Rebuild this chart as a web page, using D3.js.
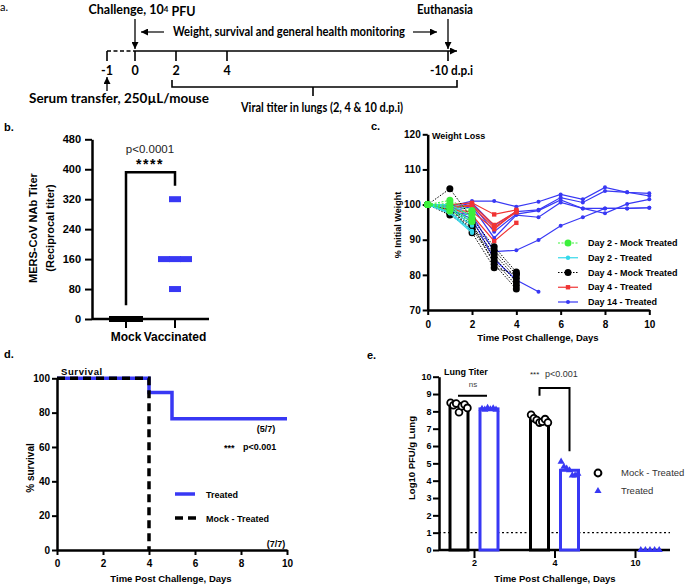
<!DOCTYPE html>
<html><head><meta charset="utf-8">
<script src="https://cdn.jsdelivr.net/npm/d3@7"></script>
<style>
body{margin:0;background:#fff}
svg{display:block}
text{font-family:"Liberation Sans",Arial,sans-serif;fill:#000}
.ta text{font-family:Lato,"Liberation Sans",sans-serif;font-weight:bold}
</style>
</head><body>
<svg id="fig" width="685" height="585"></svg>
<script>
// ================= DATA =================
// a. timeline
const timelineDays = [-1, 0, 2, 4, 10];
const timelineLabels = ["-1", "0", "2", "4", "-10 d.p.i"];

// b. neutralising antibody titers
const nabGroups = ["Mock", "Vaccinated"];
const nabMock = [0, 0, 0];
const nabVaccinated = [320, 160, 160, 160, 80];
const nabTicks = [0, 80, 160, 240, 320, 400, 480];

// c. weight loss (% initial weight), one array per mouse, index = day
const weightGroups = ["Day 2 - Mock Treated", "Day 2 - Treated", "Day 4 - Mock Treated", "Day 4 - Treated", "Day 14 - Treated"];
const day2Mock = [
  [100, 101.2, 98.3], [100, 100.3, 97.8], [100, 99.5, 97.0], [100, 98.8, 96.0], [100, 98.2, 95.2]
];
const day2Treated = [
  [100, 100.0, 96.5], [100, 99.0, 94.0], [100, 98.0, 92.5], [100, 97.5, 92.0], [100, 99.5, 95.0]
];
const day4Mock = [
  [100, 104.5, 96.0, 88.0, 80.8], [100, 99.0, 95.0, 87.0, 80.0], [100, 98.0, 94.0, 86.0, 79.0],
  [100, 97.5, 93.5, 85.0, 78.0], [100, 97.0, 93.0, 84.0, 77.0], [100, 98.5, 94.5, 83.0, 76.0],
  [100, 99.5, 92.0, 82.0, 80.3]
];
const day4Treated = [
  [100, 100.0, 100.5, 97.2, 98.5], [100, 99.0, 100.0, 94.2, 98.0], [100, 99.5, 99.5, 93.5, 97.8],
  [100, 98.5, 98.0, 93.0, 98.2], [100, 99.0, 97.0, 89.6, 94.8]
];
const day14Treated = [
  [100, 99.5, 101.0, 101.0, 99.4, 100.8, 102.9, 101.5, 104.9, 103.5, 103.2],
  [100, 99.0, 100.5, 94.0, 98.0, 98.5, 102.0, 100.6, 103.9, 103.5, 102.5],
  [100, 98.5, 100.0, 92.3, 97.3, 98.3, 101.3, 98.9, 98.9, 98.9, 99.1],
  [100, 98.0, 99.5, 90.5, 97.0, 96.4, 100.6, 98.9, 97.5, 100.2, 101.5],
  [100, 98.0, 97.0, 86.6, 87.0, 89.9, 94.0, 96.4, 98.9, 98.9, 99.1],
  [100, 98.5, 96.0, 84.5, 78.5, 75.2]
];
const weightXTicks = [0, 2, 4, 6, 8, 10];
const weightYTicks = [70, 80, 90, 100, 110, 120];

// d. survival
const survTreatedDays = [0, 4, 5, 10];
const survTreated = [100, 91.7, 76.4, 76.4];
const survMockDays = [0, 4];
const survMock = [100, 0];
const survXTicks = [0, 2, 4, 6, 8, 10];
const survYTicks = [0, 20, 40, 60, 80, 100];

// e. lung titers (log10 PFU/g)
const lungDays = ["2", "4", "10"];
const lungGroups = ["Mock - Treated", "Treated"];
const lungMockDay2 = [8.5, 8.35, 8.45, 7.95, 8.3, 8.4, 8.2];
const lungMockDay4 = [7.8, 7.6, 7.5, 7.35, 7.4, 7.55, 7.35];
const lungMockDay10 = [];
const lungTreatedDay2 = [8.15, 8.1, 8.2, 8.12, 8.18, 8.1];
const lungTreatedDay4 = [5.1, 4.8, 4.7, 4.6, 4.3, 4.3, 4.4];
const lungTreatedDay10 = [0, 0, 0, 0, 0];
const lungYTicks = [0, 1, 2, 3, 4, 5, 6, 7, 8, 9, 10];
const lungLimit = 1;

// ================= DRAWING =================
const BLUE = "#3838f4", RED = "#f03434", GREEN = "#3cf03c", CYAN = "#34d8ea";
const svg = d3.select("#fig");
const defs = svg.append("defs");
defs.append("marker").attr("id", "ah").attr("viewBox", "0 0 10 10")
  .attr("refX", 10).attr("refY", 5).attr("markerWidth", 7).attr("markerHeight", 7)
  .attr("markerUnits", "userSpaceOnUse").attr("orient", "auto")
  .append("path").attr("d", "M0,0L10,5L0,10z").attr("fill", "#000");

function T(g, x, y, s, o = {}) {
  const t = g.append("text").attr("x", x).attr("y", y).attr("dy", "0.35em")
    .attr("text-anchor", o.anchor || "start")
    .style("font-size", (o.size || 10) + "px")
    .style("font-weight", o.bold === false ? "normal" : "bold")
    .text(s);
  if (o.fill) t.style("fill", o.fill);
  if (o.ls) t.style("letter-spacing", o.ls + "px");
  if (o.rot) t.attr("transform", `rotate(-90,${x},${y})`);
  return t;
}
// stretch/squeeze a text horizontally to span a width, keeping its height
function fit(t, w) {
  return t.attr("textLength", w).attr("lengthAdjust", "spacingAndGlyphs");
}
function styleAxis(g, fs, domainW = 2.5) {
  g.select(".domain").attr("stroke-width", domainW).attr("stroke", "#000");
  g.selectAll(".tick line").attr("stroke-width", 2).attr("stroke", "#000");
  g.selectAll(".tick text").style("font-size", fs + "px").style("font-weight", "bold").attr("fill", "#000");
}
function swarm(values, spacing) {
  const counts = d3.rollup(values, v => v.length, d => d);
  const seen = new Map();
  return values.map(v => {
    const n = counts.get(v), k = seen.get(v) || 0; seen.set(v, k + 1);
    return { v, dx: (k - (n - 1) / 2) * spacing };
  });
}

// ---------- a. timeline ----------
{
  const g = svg.append("g").attr("class", "ta");
  const ta = d3.scaleLinear().domain(timelineDays).range([107, 135, 176, 227, 448]);
  const yL = 51;
  const FS = 12.5;
  T(g, 0, 7, "a.", { size: 11 }).style("font-weight", "normal");
  const ch = T(g, 142, 10, "Challenge, 10", { size: FS, anchor: "middle" });
  ch.append("tspan").attr("dy", "-0.35em").style("font-size", "8px").text("4");
  ch.append("tspan").attr("dy", "0.35em").text(" PFU");
  fit(T(g, 445, 10, "Euthanasia", { size: FS, anchor: "middle" }), 56);
  [0, 10].forEach(d => g.append("line").attr("x1", ta(d)).attr("x2", ta(d)).attr("y1", 19).attr("y2", yL - 2)
    .attr("stroke", "#000").attr("stroke-width", 1.3).attr("marker-end", "url(#ah)"));
  fit(T(g, 289, 32, "Weight, survival and general health monitoring", { size: FS, anchor: "middle" }), 232);
  g.append("line").attr("x1", 164).attr("x2", 141).attr("y1", 32).attr("y2", 32).attr("stroke", "#000").attr("stroke-width", 1.2).attr("marker-end", "url(#ah)");
  g.append("line").attr("x1", 413).attr("x2", 437).attr("y1", 32).attr("y2", 32).attr("stroke", "#000").attr("stroke-width", 1.2).attr("marker-end", "url(#ah)");
  g.append("line").attr("x1", ta(-1)).attr("x2", ta(0)).attr("y1", yL).attr("y2", yL).attr("stroke", "#000").attr("stroke-width", 1.6).attr("stroke-dasharray", "4,2.5");
  g.append("line").attr("x1", ta(0)).attr("x2", ta(10) + 9).attr("y1", yL).attr("y2", yL).attr("stroke", "#000").attr("stroke-width", 1.6).attr("marker-end", "url(#ah)");
  timelineDays.forEach((d, i) => {
    g.append("line").attr("x1", ta(d)).attr("x2", ta(d)).attr("y1", yL).attr("y2", yL + 10).attr("stroke", "#000").attr("stroke-width", 1.6);
    const last = i === timelineDays.length - 1;
    const t = T(g, last ? ta(d) - 18 : ta(d), 71, timelineLabels[i], { size: FS, anchor: last ? "start" : "middle" });
    if (last) fit(t, 43);
  });
  g.append("line").attr("x1", ta(-1)).attr("x2", ta(-1)).attr("y1", 91).attr("y2", 77).attr("stroke", "#000").attr("stroke-width", 1.3).attr("marker-end", "url(#ah)");
  fit(T(g, 119, 99, "Serum transfer, 250\u00b5L/mouse", { size: FS, anchor: "middle" }), 180);
  g.append("path").attr("d", `M172,80V87H457V80M313,87V96`).attr("fill", "none").attr("stroke", "#000").attr("stroke-width", 1.6);
  fit(T(g, 322, 108, "Viral titer in lungs (2, 4 & 10 d.p.i)", { size: FS, anchor: "middle" }), 162);
}

// ---------- b. NAb titers ----------
{
  const g = svg.append("g");
  const yb = d3.scaleLinear().domain([0, 480]).range([319, 139.3]);
  const xb = d3.scalePoint().domain(nabGroups).range([126, 175]);
  T(g, 4, 127, "b.", { size: 11 });
  const ya = g.append("g").attr("transform", "translate(92,0)")
    .call(d3.axisLeft(yb).tickValues(nabTicks).tickSize(7).tickSizeOuter(0).tickPadding(4));
  styleAxis(ya, 11);
  g.append("line").attr("x1", 92).attr("x2", 209).attr("y1", 319).attr("y2", 319).attr("stroke", "#000").attr("stroke-width", 2.5);
  nabGroups.forEach(c => {
    g.append("line").attr("x1", xb(c)).attr("x2", xb(c)).attr("y1", 319).attr("y2", 328).attr("stroke", "#000").attr("stroke-width", 2);
    T(g, xb(c), 337, c, { size: 12, anchor: "middle" });
  });
  T(g, 33, 228, "MERS-CoV NAb Titer", { size: 11, anchor: "middle", rot: true });
  T(g, 50, 228, "(Reciprocal titer)", { size: 11, anchor: "middle", rot: true });
  [[nabMock, "Mock", "#000"], [nabVaccinated, "Vaccinated", BLUE]].forEach(([vals, c, col]) => {
    g.selectAll(null).data(swarm(vals, 11)).join("rect")
      .attr("x", d => xb(c) + d.dx - 6).attr("y", d => yb(d.v) - 3)
      .attr("width", 12).attr("height", 6).attr("fill", col);
  });
  g.append("path").attr("d", `M${xb("Mock")},${yb(37)}V${yb(392)}H${xb("Vaccinated")}V${yb(356)}`)
    .attr("fill", "none").attr("stroke", "#000").attr("stroke-width", 2.5);
  T(g, 150, 149, "p<0.0001", { size: 11.5, anchor: "middle", bold: false, fill: "#222" });
  T(g, 150, 164, "****", { size: 14, anchor: "middle", ls: 1.5 });
}

// ---------- c. weight loss ----------
{
  const g = svg.append("g");
  const xc = d3.scaleLinear().domain([0, 10]).range([427.7, 649.3]);
  const yc = d3.scaleLinear().domain([70, 120]).range([310, 134.3]);
  T(g, 371, 126, "c.", { size: 11 });
  const xa = g.append("g").attr("transform", "translate(0,310)")
    .call(d3.axisBottom(xc).tickValues(weightXTicks).tickSize(5).tickSizeOuter(0).tickPadding(6));
  styleAxis(xa, 10);
  const ya = g.append("g").attr("transform", "translate(427.7,0)")
    .call(d3.axisLeft(yc).tickValues(weightYTicks).tickSize(5).tickSizeOuter(0).tickPadding(2));
  styleAxis(ya, 10);
  T(g, 538, 338, "Time Post Challenge, Days", { size: 9.5, anchor: "middle" });
  T(g, 398, 225, "% Initial Weight", { size: 9, anchor: "middle", rot: true });
  T(g, 432, 136, "Weight Loss", { size: 9 });
  const line = d3.line().x((v, i) => xc(i)).y(v => yc(v));
  const styles = [
    { data: day14Treated, col: BLUE, dash: null, r: 2, w: 1.2, shape: "circle" },
    { data: day4Treated, col: RED, dash: null, r: 2.2, w: 1.2, shape: "square" },
    { data: day4Mock, col: "#000", dash: "1.5,1.5", r: 3.5, w: 1, shape: "circle" },
    { data: day2Treated, col: CYAN, dash: null, r: 2.2, w: 1.2, shape: "circle" },
    { data: day2Mock, col: GREEN, dash: "2,1.5", r: 3.5, w: 1, shape: "circle" }
  ];
  const legendOrder = [4, 3, 2, 1, 0];
  styles.forEach(s => {
    const sg = g.append("g");
    sg.selectAll("path").data(s.data).join("path").attr("d", line).attr("fill", "none")
      .attr("stroke", s.col).attr("stroke-width", s.w).attr("stroke-dasharray", s.dash);
    const pts = s.data.flatMap(m => m.map((v, i) => ({ i, v })));
    if (s.shape === "circle")
      sg.selectAll("circle").data(pts).join("circle").attr("cx", d => xc(d.i)).attr("cy", d => yc(d.v)).attr("r", s.r).attr("fill", s.col);
    else
      sg.selectAll("rect").data(pts).join("rect").attr("x", d => xc(d.i) - s.r).attr("y", d => yc(d.v) - s.r).attr("width", 2 * s.r).attr("height", 2 * s.r).attr("fill", s.col);
  });
  weightGroups.forEach((lab, k) => {
    const s = styles[legendOrder[k]];
    const y = 243 + k * 14.75;
    g.append("line").attr("x1", 558).attr("x2", 578).attr("y1", y).attr("y2", y).attr("stroke", s.col).attr("stroke-width", s.w).attr("stroke-dasharray", s.dash);
    if (s.shape === "circle") g.append("circle").attr("cx", 568).attr("cy", y).attr("r", s.r).attr("fill", s.col);
    else g.append("rect").attr("x", 568 - s.r).attr("y", y - s.r).attr("width", 2 * s.r).attr("height", 2 * s.r).attr("fill", s.col);
    T(g, 588, y, lab, { size: 9 });
  });
}

// ---------- d. survival ----------
{
  const g = svg.append("g");
  const xd = d3.scaleLinear().domain([0, 10]).range([57, 287]);
  const yd = d3.scaleLinear().domain([0, 100]).range([550, 378.3]);
  T(g, 4, 354, "d.", { size: 11 });
  const xa = g.append("g").attr("transform", "translate(0,550)")
    .call(d3.axisBottom(xd).tickValues(survXTicks).tickSize(5).tickSizeOuter(0).tickPadding(5));
  styleAxis(xa, 10);
  const ya = g.append("g").attr("transform", "translate(57,0)")
    .call(d3.axisLeft(yd).tickValues(survYTicks).tickSize(5).tickSizeOuter(0).tickPadding(2));
  styleAxis(ya, 10);
  T(g, 171, 579, "Time Post Challenge, Days", { size: 9.5, anchor: "middle" });
  T(g, 30, 468, "% survival", { size: 10, anchor: "middle", rot: true });
  T(g, 61, 372, "Survival", { size: 9.5, ls: 0.6 });
  const step = d3.line().curve(d3.curveStepAfter);
  g.append("path").attr("d", step(survTreatedDays.map((t, i) => [xd(t), yd(survTreated[i])])))
    .attr("fill", "none").attr("stroke", BLUE).attr("stroke-width", 3.5);
  g.append("path").attr("d", step(survMockDays.map((t, i) => [xd(t), yd(survMock[i])])))
    .attr("fill", "none").attr("stroke", "#000").attr("stroke-width", 3.5).attr("stroke-dasharray", "8,5");
  T(g, 266, 429, "(5/7)", { size: 9, anchor: "middle" });
  T(g, 224, 448, "***", { size: 9 });
  T(g, 243, 447, "p<0.001", { size: 9 });
  T(g, 276, 544, "(7/7)", { size: 9, anchor: "middle" });
  g.append("line").attr("x1", 175).attr("x2", 195).attr("y1", 494).attr("y2", 494).attr("stroke", BLUE).attr("stroke-width", 3.5);
  g.append("line").attr("x1", 175).attr("x2", 196).attr("y1", 518).attr("y2", 518).attr("stroke", "#000").attr("stroke-width", 3.5).attr("stroke-dasharray", "8,5");
  T(g, 206, 495, lungGroups[1], { size: 9 });
  T(g, 206, 519, lungGroups[0], { size: 9 });
}

// ---------- e. lung titers ----------
{
  const g = svg.append("g");
  const ye = d3.scaleLinear().domain([0, 10]).range([550, 376.7]);
  const xe = d3.scalePoint().domain(lungDays).range([474, 635]);
  const xs = d3.scalePoint().domain(lungGroups).range([-15, 15]);
  T(g, 367, 355, "e.", { size: 11 });
  g.append("line").attr("x1", 439).attr("x2", 670).attr("y1", ye(lungLimit)).attr("y2", ye(lungLimit))
    .attr("stroke", "#000").attr("stroke-width", 1.1).attr("stroke-dasharray", "2,2.5");
  const xa = g.append("g").attr("transform", "translate(0,550)")
    .call(d3.axisBottom(xe).tickSize(8).tickSizeOuter(0).tickPadding(2));
  xa.select(".domain").remove();
  styleAxis(xa, 9);
  g.append("line").attr("x1", 439).attr("x2", 670).attr("y1", 550).attr("y2", 550).attr("stroke", "#000").attr("stroke-width", 2.5);
  const ya = g.append("g").attr("transform", "translate(439,0)")
    .call(d3.axisLeft(ye).tickValues(lungYTicks).tickSize(6).tickSizeOuter(0).tickPadding(1.5));
  styleAxis(ya, 9);
  T(g, 555, 579, "Time Post Challenge, Days", { size: 9.5, anchor: "middle" });
  T(g, 412, 458, "Log10 PFU/g Lung", { size: 9.5, anchor: "middle", rot: true });
  T(g, 444, 372, "Lung Titer", { size: 9 });
  const sets = [
    { day: "2", grp: lungGroups[0], vals: lungMockDay2 }, { day: "4", grp: lungGroups[0], vals: lungMockDay4 },
    { day: "10", grp: lungGroups[0], vals: lungMockDay10 },
    { day: "2", grp: lungGroups[1], vals: lungTreatedDay2 }, { day: "4", grp: lungGroups[1], vals: lungTreatedDay4 },
    { day: "10", grp: lungGroups[1], vals: lungTreatedDay10 }
  ];
  sets.forEach(s => {
    if (!s.vals.length) return;
    const cx = xe(s.day) + xs(s.grp);
    const col = s.grp === lungGroups[0] ? "#000" : BLUE;
    const m = d3.mean(s.vals);
    if (m > 0)
      g.append("rect").attr("x", cx - 9).attr("y", ye(m)).attr("width", 18).attr("height", ye(0) - ye(m))
        .attr("fill", "#fff").attr("stroke", col).attr("stroke-width", 3);
    const n = s.vals.length;
    s.vals.forEach((v, i) => {
      const px = cx + (i - (n - 1) / 2) * (s.day === "10" ? 4.6 : 2.8);
      if (s.grp === lungGroups[0])
        g.append("circle").attr("cx", px).attr("cy", ye(v)).attr("r", 3.4).attr("fill", "#fff").attr("stroke", "#000").attr("stroke-width", 1.8);
      else
        g.append("path").attr("d", d3.symbol(d3.symbolTriangle, 22)()).attr("transform", `translate(${px},${ye(v)})`).attr("fill", BLUE);
    });
  });
  g.append("line").attr("x1", xe("2") - 16).attr("x2", xe("2") + 13).attr("y1", ye(8.9)).attr("y2", ye(8.9)).attr("stroke", "#000").attr("stroke-width", 2);
  T(g, 473, 384, "ns", { size: 8, anchor: "middle", bold: false, fill: "#444" });
  g.append("path").attr("d", `M${xe("4") + xs(lungGroups[0])},${ye(8.9)}V${ye(9.35)}H${xe("4") + xs(lungGroups[1])}V${ye(5.7)}`)
    .attr("fill", "none").attr("stroke", "#000").attr("stroke-width", 2);
  T(g, 530, 374, "***", { size: 8, bold: false, fill: "#222" });
  T(g, 545, 374, "p<0.001", { size: 9, bold: false, fill: "#333" });
  g.append("circle").attr("cx", 598).attr("cy", 473).attr("r", 3.4).attr("fill", "#fff").attr("stroke", "#000").attr("stroke-width", 2);
  g.append("path").attr("d", d3.symbol(d3.symbolTriangle, 22)()).attr("transform", "translate(598,491)").attr("fill", BLUE);
  T(g, 621, 473, lungGroups[0], { size: 9.5, bold: false, fill: "#333" });
  T(g, 621, 491, lungGroups[1], { size: 9.5, bold: false, fill: "#333" });
}
</script>
</body></html>
